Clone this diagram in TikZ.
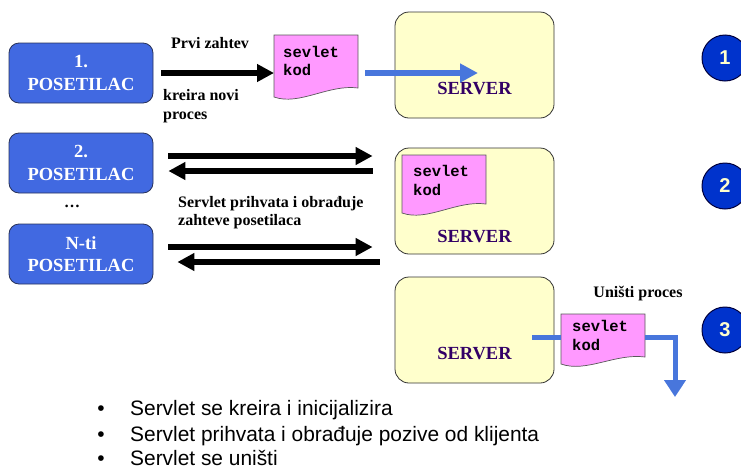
\documentclass[tikz,border=0pt]{standalone}
\usepackage{fontspec}
\setmainfont{Liberation Serif}
\setsansfont{Liberation Sans}
\setmonofont{Liberation Mono}
\usetikzlibrary{arrows.meta,calc}
\definecolor{boxblue}{RGB}{65,105,225}
\definecolor{boxedge}{RGB}{40,50,90}
\definecolor{srvfill}{RGB}{255,255,204}
\definecolor{srvtext}{RGB}{51,0,102}
\definecolor{docpink}{RGB}{255,153,255}
\definecolor{arrblue}{RGB}{72,118,220}
\definecolor{circfill}{RGB}{0,51,204}
\definecolor{circedge}{RGB}{0,0,60}
\definecolor{digit}{RGB}{255,255,204}
\newcommand\mydocshape[5]{% x1 y1 x2 yR yL
  \path[docfill] (#1,#2) -- (#3,#2) -- (#3,#4)
    .. controls ({#1+0.65*(#3-#1)},{#4-4}) and ({#1+0.3*(#3-#1)},{#5+9}) .. (#1,#5) -- cycle;}
\begin{document}
\begin{tikzpicture}[x=1pt,y=-1pt,
  visitor/.style={draw=boxedge, line width=0.8pt, fill=boxblue, rounded corners=10pt,
    minimum width=144pt, minimum height=60pt, inner sep=0pt, text=white, align=center,
    font=\bfseries\fontsize{18.5}{22.5}\selectfont},
  server/.style={draw=black!80, line width=0.8pt, fill=srvfill, rounded corners=14pt,
    minimum width=159pt, minimum height=106pt, inner sep=0pt},
  srvlabel/.style={anchor=base, text=srvtext, font=\bfseries\fontsize{18.5}{20}\selectfont, inner sep=0pt},
  docarea/.style={anchor=north west, minimum width=84pt, inner sep=0pt, draw=none},
  doctext/.style={anchor=base west, inner sep=0pt, font=\ttfamily\bfseries\fontsize{15.5}{18}\selectfont},
  docfill/.style={fill=docpink, draw=black!65, line width=0.7pt},
  lbl/.style={anchor=base west, font=\bfseries\fontsize{16}{19}\selectfont, inner sep=0pt},
  fat/.style={line width=6.5pt, -{Triangle[length=17pt,width=17pt]}},
  bluearr/.style={draw=arrblue, line width=6pt, -{Triangle[length=18pt,width=18pt]}},
  blueline/.style={draw=arrblue, line width=5pt},
  bluedown/.style={draw=arrblue, line width=5pt, line join=miter, -{Triangle[length=17pt,width=21pt]}},
  stepnum/.style={circle, fill=circfill, draw=circedge, line width=1pt, minimum size=46pt,
    inner sep=0pt, text=digit, font=\sffamily\bfseries\fontsize{20}{20}\selectfont},
  bul/.style={anchor=base, inner sep=0pt, font=\sffamily\fontsize{20.9}{24}\selectfont},
  bultext/.style={anchor=base west, inner sep=0pt, font=\sffamily\fontsize{20.9}{24}\selectfont}
]
\path[use as bounding box] (0,0) rectangle (741,469);
\clip (0,0) rectangle (741,469);

% visitors
\node[visitor] (b1) at (81,73) {1.\\POSETILAC};
\node[visitor] (b2) at (81,163) {2.\\POSETILAC};
\node[visitor] (bN) at (81,254) {N-ti\\POSETILAC};
\node[lbl, anchor=base] (dots) at (72,207) {\dots};

% servers
\node[server] (s1) at (474.5,65) {};
\node[server] (s2) at (474.5,201) {};
\node[server] (s3) at (474.5,330) {};

% servlet documents
\mydocshape{274}{35}{358}{88}{97}
\node[docarea, minimum height=62pt] (d1) at (274,35) {};
\node[doctext] (d1a) at (283,57) {sevlet};
\node[doctext] (d1b) at (283,75) {kod};

\mydocshape{402}{155}{486}{204}{213}
\node[docarea, minimum height=58pt] (d2) at (402,155) {};
\node[doctext] (d2a) at (413,176) {sevlet};
\node[doctext] (d2b) at (413,195) {kod};

\mydocshape{561}{314}{645}{357}{364}
\node[docarea, minimum height=50pt] (d3) at (561,314) {};
\node[doctext] (d3a) at (572,331.5) {sevlet};
\node[doctext] (d3b) at (572,350) {kod};

% server labels
\node[srvlabel] (s1t) at (474.5,94.3) {SERVER};
\node[srvlabel] (s2t) at (474.5,242.3) {SERVER};
\node[srvlabel] (s3t) at (474.5,359.3) {SERVER};

% labels
\node[lbl] (l1) at (171,48.5) {Prvi zahtev};
\node[lbl] (l2a) at (163,100) {kreira novi};
\node[lbl] (l2b) at (163,119) {proces};
\node[lbl] (l3a) at (178,207) {Servlet prihvata i obrađuje};
\node[lbl] (l3b) at (178,225.5) {zahteve posetilaca};
\node[lbl, anchor=base] (l4) at (638,297) {Uništi proces};

% black arrows
\draw[fat] ($(b1.east)+(8,0)$) -- (d1.west |- b1.east);
\draw[fat] ($(b2.east)+(15,-7)$) -- ($(s2.west |- b2.east)+(-22,-7)$);
\draw[fat] ($(s2.west |- b2.east)+(-22,8)$) -- ($(b2.east)+(15,8)$);
\draw[fat] ($(bN.east)+(15,-7)$) -- ($(s2.west |- bN.east)+(-22,-7)$);
\draw[fat] ($(s2.west |- bN.east)+(-15,8)$) -- ($(bN.east)+(24,8)$);

% blue arrows
\coordinate (t1) at (478,73);
\draw[bluearr] ($(d1.east |- b1.east)+(7,0)$) -- (t1);
\coordinate (k1) at (532,337);
\coordinate (k2) at (675,397);
\draw[blueline] (k1) -- (d3.west |- k1);
\draw[bluedown] (d3.east |- k1) -| (k2);

% step circles
\node[stepnum] (c1) at (725,58) {1};
\node[stepnum] (c2) at (725,186) {2};
\node[stepnum] (c3) at (725,330) {3};

% bullets
\node[bul] (u1) at (101,415) {•};
\node[bultext] (v1) at (130,415) {Servlet se kreira i inicijalizira};
\node[bul] (u2) at (101,441) {•};
\node[bultext] (v2) at (130,441) {Servlet prihvata i obrađuje pozive od klijenta};
\node[bul] (u3) at (101,465) {•};
\node[bultext] (v3) at (130,465) {Servlet se uništi};
\end{tikzpicture}
\end{document}
